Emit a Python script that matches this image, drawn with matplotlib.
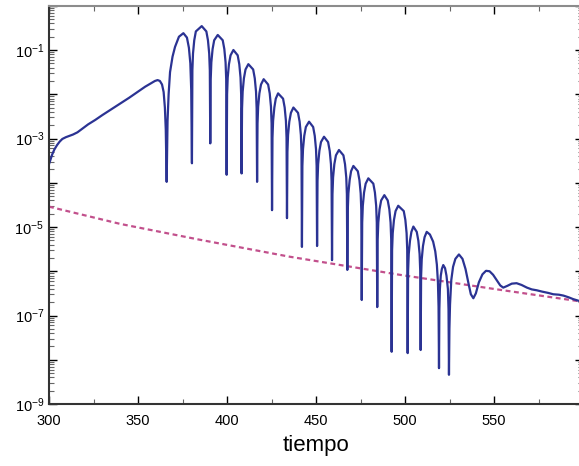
import numpy as np
import matplotlib.pyplot as plt
from matplotlib.ticker import LogLocator, FixedLocator, FuncFormatter

plt.rcParams['font.family'] = ['Liberation Sans', 'DejaVu Sans']
plt.rcParams['mathtext.default'] = 'regular'

# curva principal: tiempo y log10 de la amplitud
tiempo = [
    300.0, 300.8, 301.8, 303.0, 304.5, 306.0, 307.5, 309.5, 311.5, 313.5,
    316.0, 319.0, 322.0, 326.0, 330.0, 335.0, 340.0, 345.0, 350.0, 354.0,
    357.0, 359.5, 361.0, 362.3, 363.5, 364.4, 365.1, 365.6, 366.1,
    366.6, 367.2, 368.0, 369.4, 370.8, 373.0, 375.5, 377.5, 378.6, 379.4, 379.9, 380.3,
    380.55, 380.9, 381.6, 382.5, 385.8, 388.4, 389.3, 390.0, 390.35, 390.6,
    390.85, 391.2, 391.9, 392.8, 394.8, 397.6, 398.5, 399.2, 399.55, 399.8,
    400.05, 400.4, 401.1, 402.0, 403.6, 406.0, 406.9, 407.6, 407.95, 408.2,
    408.45, 408.8, 409.5, 410.4, 412.0, 414.7, 415.6, 416.3, 416.65, 416.9,
    417.15, 417.5, 418.2, 419.1, 420.6, 423.1, 424.0, 424.7, 425.05, 425.3,
    425.55, 425.9, 426.6, 427.4, 428.7, 431.5, 432.4, 433.1, 433.45, 433.7,
    433.95, 434.3, 435.0, 435.9, 437.3, 439.9, 440.8, 441.5, 441.85, 442.1,
    442.35, 442.7, 443.4, 444.3, 446.1, 448.4, 449.3, 450.0, 450.35, 450.6,
    450.85, 451.2, 451.9, 452.8, 454.5, 456.8, 457.7, 458.4, 458.75, 459.0,
    459.25, 459.6, 460.3, 461.2, 462.9, 465.4, 466.3, 467.0, 467.35, 467.6,
    467.85, 468.2, 468.9, 469.7, 471.0, 473.5, 474.4, 475.1, 475.45, 475.7,
    475.95, 476.3, 477.0, 477.9, 479.4, 482.2, 483.1, 483.8, 484.15, 484.4,
    484.65, 485.0, 485.7, 486.6, 488.4, 490.3, 491.2, 491.9, 492.25, 492.5,
    492.75, 493.1, 493.8, 494.7, 496.2, 499.3, 500.2, 500.9, 501.25, 501.5,
    501.75, 502.1, 502.8, 503.6, 504.7, 506.6, 507.5, 508.2, 508.55, 508.8,
    509.05, 509.4, 510.1, 511.0, 512.2, 514.0, 515.8, 517.0, 517.9, 518.5, 518.85, 519.1,
    519.3, 519.6, 520.1, 520.7, 521.5, 522.5, 523.3, 524.1, 524.45, 524.7,
    524.95, 525.3, 526.0, 527.0, 528.3, 530.3, 532.3, 534.0, 535.8, 537.0,
    538.4, 539.8, 541.5, 543.5, 545.5, 547.5, 549.5, 551.5, 553.5, 555.2,
    557.5, 560.0, 562.7, 565.5, 568.5, 571.2, 574.0, 577.0, 580.5, 583.3,
    586.5, 589.0, 592.0, 594.5, 597.8, 600.0,
]
exponente = [
    -3.58, -3.48, -3.36, -3.25, -3.15, -3.07, -3.01, -2.97, -2.94, -2.91,
    -2.86, -2.77, -2.68, -2.58, -2.47, -2.34, -2.21, -2.08, -1.94, -1.83,
    -1.76, -1.70, -1.68, -1.70, -1.78, -1.95, -2.30, -2.80, -3.98,
    -2.60, -2.00, -1.50, -1.15, -0.93, -0.70, -0.62, -0.72, -0.95, -1.30, -1.90, -3.56,
    -1.46, -1.08, -0.78, -0.58, -0.46, -0.58, -0.78, -1.08, -1.46, -3.11,
    -1.66, -1.28, -0.98, -0.78, -0.66, -0.78, -0.98, -1.28, -1.66, -3.82,
    -2.00, -1.62, -1.32, -1.12, -1.00, -1.12, -1.32, -1.62, -2.00, -3.79,
    -2.32, -1.94, -1.64, -1.44, -1.32, -1.44, -1.64, -1.94, -2.32, -3.98,
    -2.66, -2.28, -1.98, -1.78, -1.66, -1.78, -1.98, -2.28, -2.66, -4.62,
    -2.98, -2.60, -2.30, -2.10, -1.98, -2.10, -2.30, -2.60, -2.98, -4.80,
    -3.30, -2.92, -2.62, -2.42, -2.30, -2.42, -2.62, -2.92, -3.30, -5.45,
    -3.62, -3.24, -2.94, -2.74, -2.62, -2.74, -2.94, -3.24, -3.62, -5.43,
    -3.96, -3.58, -3.28, -3.08, -2.96, -3.08, -3.28, -3.58, -3.96, -5.75,
    -4.26, -3.88, -3.58, -3.38, -3.26, -3.38, -3.58, -3.88, -4.26, -5.97,
    -4.62, -4.24, -3.94, -3.74, -3.62, -3.74, -3.94, -4.24, -4.62, -6.65,
    -4.90, -4.52, -4.22, -4.02, -3.90, -4.02, -4.22, -4.52, -4.90, -6.81,
    -5.28, -4.90, -4.60, -4.40, -4.28, -4.40, -4.60, -4.90, -5.28, -7.82,
    -5.52, -5.14, -4.84, -4.64, -4.52, -4.64, -4.84, -5.14, -5.52, -7.85,
    -5.99, -5.61, -5.31, -5.11, -4.99, -5.11, -5.31, -5.61, -5.99, -7.78,
    -6.11, -5.73, -5.43, -5.23, -5.11, -5.17, -5.33, -5.55, -5.85, -6.25, -6.80, -8.19,
    -6.86, -6.40, -6.10, -5.95, -5.86, -5.93, -6.10, -6.40, -6.86, -8.34,
    -7.30, -6.75, -6.20, -5.90, -5.72, -5.62, -5.72, -5.95, -6.30, -6.52,
    -6.61, -6.50, -6.25, -6.07, -5.99, -6.00, -6.08, -6.20, -6.32, -6.37,
    -6.33, -6.28, -6.27, -6.31, -6.37, -6.41, -6.43, -6.46, -6.49, -6.52,
    -6.53, -6.55, -6.59, -6.63, -6.67, -6.70,
]

# curva punteada (cota)
tiempo_cota = [300.0, 340.0, 385.0, 435.0, 497.0, 550.0, 600.0]
exponente_cota = [-4.54, -4.93, -5.29, -5.67, -6.08, -6.40, -6.69]

amplitud = 10.0 ** np.array(exponente)
cota = 10.0 ** np.array(exponente_cota)

fig = plt.figure(figsize=(5.79, 4.66), dpi=100)
W, H = 579, 466
ax = fig.add_axes([49 / W, (H - 404) / H, (583 - 49) / W, (404 - 5.75) / H])

ax.plot(tiempo_cota, cota, color='#c2508c', lw=1.6, linestyle=(0, (2.2, 1.6)))
ax.plot(tiempo, amplitud, color='#2b3393', lw=1.6, solid_joinstyle='round')

ax.set_yscale('log')
ax.set_xlim(300, 600)
ax.set_ylim(1e-9, 1e0)

ax.xaxis.set_major_locator(FixedLocator([300, 350, 400, 450, 500, 550]))
ax.xaxis.set_minor_locator(FixedLocator([325, 375, 425, 475, 525, 575]))
ax.yaxis.set_major_locator(LogLocator(base=10, numticks=20))
ax.yaxis.set_minor_locator(LogLocator(base=10, subs=np.arange(2, 10), numticks=20))


def etiqueta(v, pos):
    e = int(round(np.log10(v)))
    if e % 2 == 0:
        return ''
    return '$10^{%d}$' % e


ax.yaxis.set_major_formatter(FuncFormatter(etiqueta))

ax.tick_params(which='both', direction='in', top=True, right=True, labelsize=10.5)
ax.tick_params(which='major', length=6, width=1)
ax.tick_params(which='minor', length=3.5, width=0.8, colors='#666666', labelcolor='black')
ax.tick_params(axis='x', which='major', pad=7)

ax.spines['top'].set_color('#8c8c8c')
ax.spines['top'].set_linewidth(1.5)
ax.spines['bottom'].set_linewidth(1.5)
ax.spines['left'].set_linewidth(1.5)
ax.spines['bottom'].set_color('#333333')
ax.spines['left'].set_color('#333333')

ax.set_xlabel('tiempo', fontsize=16, labelpad=5)

fig.savefig('out.png', dpi=100)
